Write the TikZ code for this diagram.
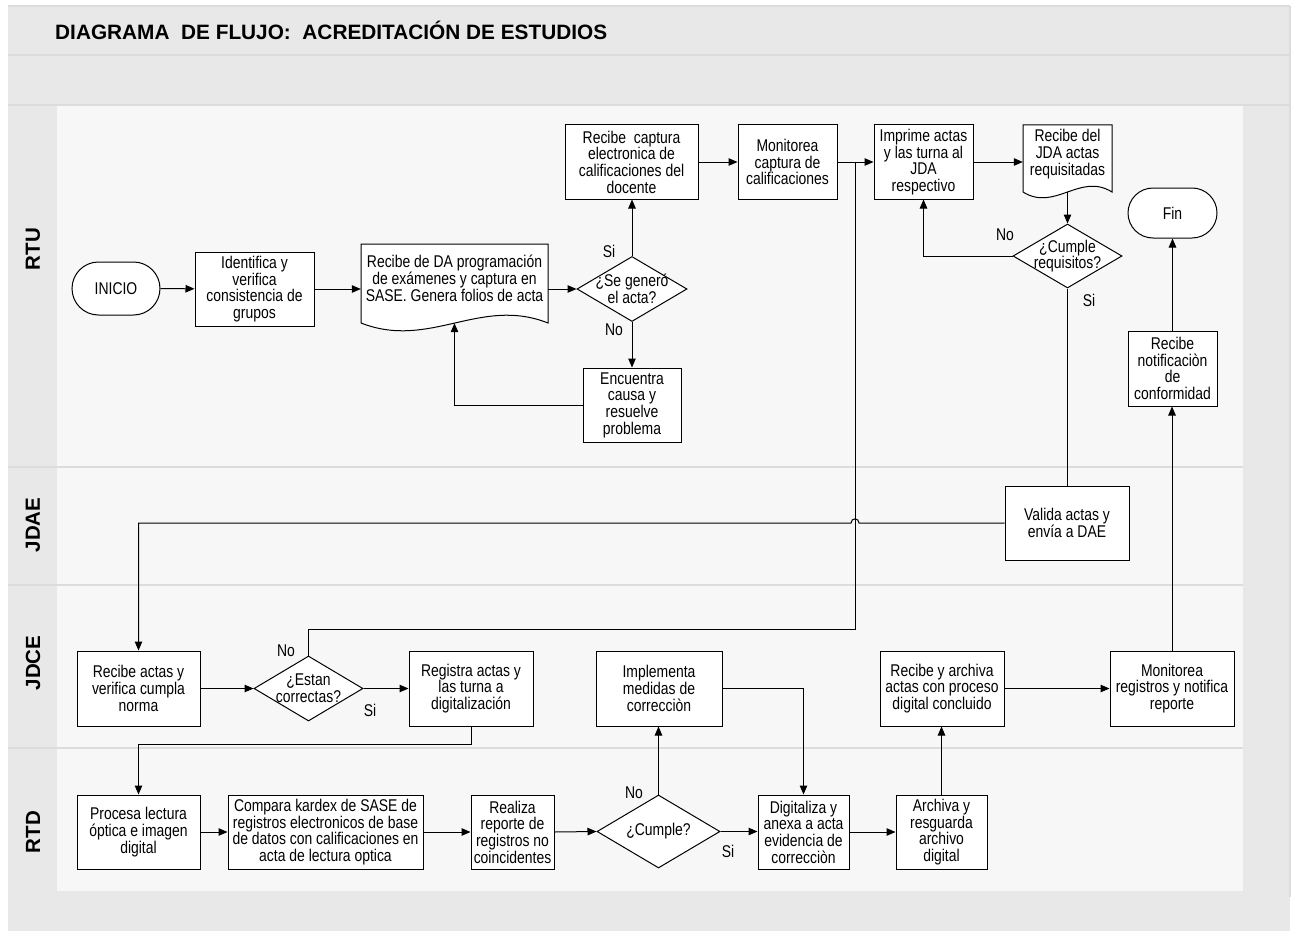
\documentclass[tikz,border=0pt]{standalone}
\usepackage{fontspec}
\setmainfont{Liberation Sans}
\newfontfamily\bx{Liberation Sans}[FakeStretch=0.82]
\usetikzlibrary{shapes.geometric,shapes.misc,arrows.meta}
\definecolor{outerg}{RGB}{232,232,232}
\definecolor{laneg}{RGB}{247,247,247}
\definecolor{divg}{RGB}{220,220,220}
\tikzset{
  txt/.style={font=\bx\fontsize{17}{16.7}\selectfont, align=center},
  box/.style={txt, draw=black, fill=white, line width=1pt, inner sep=0pt},
  plain/.style={txt, inner sep=0pt},
  term/.style={txt, rounded rectangle, draw=black, fill=white, line width=1pt, inner sep=0pt},
  dia/.style={diamond, draw=black, fill=white, line width=1pt, inner sep=0pt},
  dtxt/.style={txt, inner sep=0pt},
  conn/.style={draw=black, line width=1pt},
  arr/.style={conn, -{Triangle[length=9pt,width=7.5pt]}},
  lbl/.style={font=\bx\fontsize{17}{17}\selectfont, inner sep=0pt},
  lane/.style={font=\bfseries\fontsize{20.5}{21}\selectfont, rotate=90, inner sep=0pt}
}
\begin{document}
\begin{tikzpicture}[x=1pt,y=-1pt]
\useasboundingbox (0,0) rectangle (1292,931);
% background
\fill[outerg] (8,6) rectangle (1290,931);
\draw[divg, line width=1.2pt] (8,6) -- (1290,6);
\draw[divg, line width=1.2pt] (1290,6) -- (1290,897);
\draw[divg, line width=1.5pt] (8,55) -- (1290,55);
\draw[divg, line width=1.5pt] (8,105) -- (1290,105);
\fill[laneg] (57,106) rectangle (1243,891);
\foreach \yy in {467,585,748} {\draw[divg, line width=1.8pt] (8,\yy) -- (1243,\yy);}
% title
\node[anchor=west, font=\bfseries\fontsize{20.8}{24}\selectfont, inner sep=0pt] (title) at (55,30) {DIAGRAMA\ \ DE FLUJO:\ \ ACREDITACIÓN DE ESTUDIOS};
% lane labels
\node[lane] (lRTU) at (33,249) {RTU};
\node[lane] (lJDAE) at (33,525) {JDAE};
\node[lane] (lJDCE) at (33,663) {JDCE};
\node[lane] (lRTD) at (33,832) {RTD};
% document shapes
\draw[fill=white, line width=1pt] (361,244) -- (548,244) -- (548,323) .. controls (480,296) and (430,350) .. (361,323) -- cycle;
\draw[fill=white, line width=1pt] (1023,125) -- (1112,125) -- (1112,192) .. controls (1080,172) and (1055,212) .. (1023,192) -- cycle;
% RTU nodes
\node[term, minimum width=88pt, minimum height=53pt] (inicio) at (116,288.5) {INICIO};
\node[box, minimum width=119pt, minimum height=74pt] (ident) at (254.5,289) {Identifica y\\verifica\\consistencia de\\grupos};
\node[plain, minimum width=187pt, minimum height=69pt] (doc1) at (454.5,278.5) {Recibe de DA programación\\de exámenes y captura en\\SASE. Genera folios de acta};
\node[dia, minimum width=110pt, minimum height=65pt, label={[dtxt]center:¿Se generó\\el acta?}] (dia1) at (632,289) {};
\node[box, minimum width=133pt, minimum height=74pt] (cap) at (631.5,162) {Recibe~ captura\\electronica de\\calificaciones del\\docente};
\node[box, minimum width=98pt, minimum height=74pt] (enc) at (632,405) {Encuentra\\causa y\\resuelve\\problema};
\node[box, minimum width=99pt, minimum height=74pt] (mon1) at (787.5,162) {Monitorea\\captura de\\calificaciones};
\node[box, minimum width=99pt, minimum height=74pt] (imp) at (923.5,162) {Imprime actas\\y las turna al\\JDA\\respectivo};
\node[plain, minimum width=89pt, minimum height=58pt] (doc2) at (1067.5,154) {Recibe del\\JDA actas\\requisitadas};
\node[dia, minimum width=109pt, minimum height=64pt, label={[dtxt]center:¿Cumple\\requisitos?}] (dia2) at (1067.5,256) {};
\node[term, minimum width=89pt, minimum height=50pt] (fin) at (1172.5,213) {Fin};
\node[box, minimum width=89pt, minimum height=75pt] (notif) at (1172.5,368.5) {Recibe\\notificaciòn\\de\\conformidad};
% JDAE
\node[box, minimum width=124pt, minimum height=74pt] (valida) at (1067,523) {Valida actas y\\envía a DAE};
% JDCE
\node[box, minimum width=123pt, minimum height=75pt] (rec) at (138.5,688.5) {Recibe actas y\\verifica cumpla\\norma};
\node[dia, minimum width=109pt, minimum height=65pt, label={[dtxt]center:¿Estan\\correctas?}] (dia3) at (308.5,688.5) {};
\node[box, minimum width=124pt, minimum height=75pt] (reg) at (471,688.5) {Registra actas y\\las turna a\\digitalización};
\node[box, minimum width=126pt, minimum height=75pt] (impl) at (659,688.5) {Implementa\\medidas de\\correcciòn};
\node[box, minimum width=124pt, minimum height=75pt] (arch1) at (942,688.5) {Recibe y archiva\\actas con proceso\\digital concluido};
\node[box, minimum width=124pt, minimum height=75pt] (monr) at (1172,688.5) {Monitorea\\registros y notifica\\reporte};
% RTD
\node[box, minimum width=123pt, minimum height=74pt] (proc) at (138.5,832) {Procesa lectura\\óptica e imagen\\digital};
\node[box, minimum width=195pt, minimum height=74pt] (comp) at (325.5,832) {Compara kardex de SASE de\\registros electronicos de base\\de datos con calificaciones en\\acta de lectura optica};
\node[box, minimum width=83pt, minimum height=74pt] (real) at (512.5,832) {Realiza\\reporte de\\registros no\\coincidentes};
\node[dia, minimum width=123pt, minimum height=73pt, label={[dtxt]center:¿Cumple?}] (dia4) at (658.5,831.5) {};
\node[box, minimum width=91pt, minimum height=74pt] (dig) at (803.5,832) {Digitaliza y\\anexa a acta\\evidencia de\\correcciòn};
\node[box, minimum width=91pt, minimum height=74pt] (arch2) at (941.5,832) {Archiva y\\resguarda\\archivo\\digital};
\coordinate (bus) at (855,629);
% connectors RTU
\draw[arr] (inicio) -- (ident);
\draw[arr] (ident.east) -- (ident.east -| doc1.west);
\draw[arr] (doc1.west |- dia1.west) ++(187pt,0) -- (dia1.west);
\draw[arr] (dia1.north) -- (dia1.north |- cap.south);
\draw[arr] (dia1.south) -- (dia1.south |- enc.north);
\draw[arr] (enc.west) -| ([yshift=-10pt]doc1.south);
\draw[arr] (cap.east) -- (mon1.west);
\draw[arr] (mon1.east) -- (imp.west);
\draw[arr] (imp.east) -- (imp.east -| doc2.west);
\draw[arr] ([yshift=-9pt]doc2.south) -- (dia2.north);
\draw[arr] (dia2.west) -| (imp.south);
\draw[conn] (dia2.south) -- (dia2.south |- valida.north);
\draw[arr] (monr.north) -- (monr.north |- notif.south);
\draw[arr] (notif.north) -- (fin.south);
% long connectors
\draw[arr] (valida.west) -- (859,523) .. controls (859,517.5) and (851,517.5) .. (851,523) -- (rec.north |- valida.west) -- (rec.north);
\draw[conn] (dia3.north) |- (bus) -- (bus |- mon1.east);
% JDCE / RTD
\draw[arr] (rec.east) -- (dia3.west);
\draw[arr] (dia3.east) -- (reg.west);
\draw[arr] (reg.south) -- ++(0,18) -| (proc.north);
\draw[arr] (proc.east) -- (comp.west);
\draw[arr] (comp.east) -- (real.west);
\draw[arr] (real.east) -- (dia4.west);
\draw[arr] (dia4.north) -- (dia4.north |- impl.south);
\draw[arr] (dia4.east) -- (dia4.east -| dig.west);
\draw[arr] (impl.east) -| (dig.north);
\draw[arr] (dig.east) -- (arch2.west);
\draw[arr] (arch2.north) -- (arch2.north |- arch1.south);
\draw[arr] (arch1.east) -- (monr.west);
% branch labels
\node[lbl] (s1) at (609,251) {Si};
\node[lbl] (n1) at (614,330) {No};
\node[lbl] (n2) at (1005,235) {No};
\node[lbl] (s2) at (1089,300) {Si};
\node[lbl] (n3) at (286,651) {No};
\node[lbl] (s3) at (370,710) {Si};
\node[lbl] (n4) at (634,793) {No};
\node[lbl] (s4) at (728,851) {Si};
\end{tikzpicture}
\end{document}
